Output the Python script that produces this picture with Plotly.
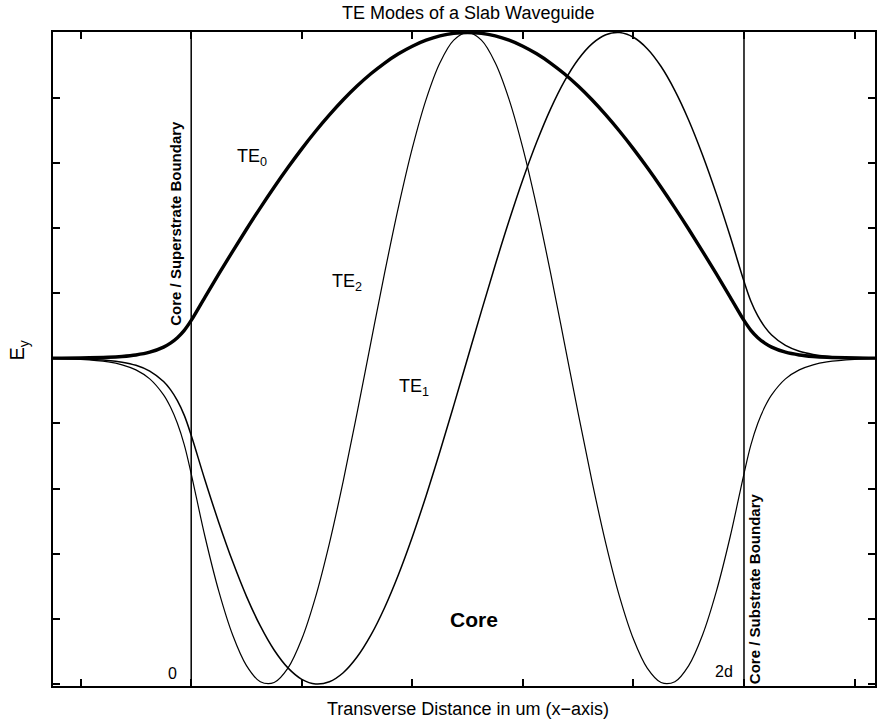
import plotly.graph_objects as go

# ---- data ----
# x in tick units; the core spans 0 .. 2d (= 5 ticks); E_y normalised to peak 1
x_pos = [-1.25, -1.0, -0.75, -0.625, -0.5, -0.375, -0.25, -0.1875, -0.125, -0.0625,
         0.0, 0.125, 0.25, 0.375, 0.5, 0.625, 0.75, 0.875, 1.0, 1.125,
         1.25, 1.375, 1.5, 1.625, 1.75, 1.875, 2.0, 2.125, 2.25, 2.375,
         2.5, 2.625, 2.75, 2.875, 3.0, 3.125, 3.25, 3.375, 3.5, 3.625,
         3.75, 3.875, 4.0, 4.125, 4.25, 4.375, 4.5, 4.625, 4.75, 4.875,
         5.0, 5.0625, 5.125, 5.1875, 5.25, 5.375, 5.5, 5.625, 5.75, 6.0, 6.25]

ey_te0 = [0.0003, 0.0009, 0.0030, 0.0055, 0.0101, 0.0186, 0.0343, 0.0465, 0.0631, 0.0856,
          0.1161, 0.188, 0.2588, 0.3283, 0.3961, 0.4618, 0.525, 0.5854, 0.6428, 0.6968,
          0.747, 0.7934, 0.8355, 0.8732, 0.9063, 0.9346, 0.958, 0.9763, 0.9894, 0.9974,
          1.0, 0.9974, 0.9894, 0.9763, 0.958, 0.9346, 0.9063, 0.8732, 0.8355, 0.7934,
          0.747, 0.6968, 0.6428, 0.5854, 0.525, 0.4618, 0.3961, 0.3283, 0.2588, 0.188,
          0.1161, 0.0856, 0.0631, 0.0465, 0.0343, 0.0186, 0.0101, 0.0055, 0.0030, 0.0009, 0.0003]

ey_te1 = [-0.0006, -0.0020, -0.0065, -0.0119, -0.0216, -0.0393, -0.0715, -0.0964, -0.1300, -0.1753,
          -0.2363, -0.3744, -0.5046, -0.6241, -0.7308, -0.8217, -0.8955, -0.9504, -0.9854, -0.9997,
          -0.9929, -0.9652, -0.9172, -0.85, -0.7649, -0.6637, -0.5486, -0.4218, -0.2863, -0.1446,
          0.0, 0.1446, 0.2863, 0.4218, 0.5486, 0.6637, 0.7649, 0.85, 0.9172, 0.9652,
          0.9929, 0.9997, 0.9854, 0.9504, 0.8955, 0.8217, 0.7308, 0.6241, 0.5046, 0.3744,
          0.2363, 0.1753, 0.1300, 0.0964, 0.0715, 0.0393, 0.0216, 0.0119, 0.0065, 0.0020, 0.0006]

ey_te2 = [-0.0011, -0.0036, -0.0113, -0.0201, -0.0357, -0.0634, -0.1125, -0.1499, -0.1997, -0.2661,
          -0.3545, -0.5479, -0.7156, -0.8494, -0.9433, -0.9927, -0.9953, -0.9511, -0.8619, -0.7323,
          -0.5681, -0.3772, -0.1684, 0.0483, 0.2627, 0.4647, 0.6448, 0.7946, 0.9069, 0.9764,
          1.0, 0.9764, 0.9069, 0.7946, 0.6448, 0.4647, 0.2627, 0.0483, -0.1684, -0.3772,
          -0.5681, -0.7323, -0.8619, -0.9511, -0.9953, -0.9927, -0.9433, -0.8494, -0.7156, -0.5479,
          -0.3545, -0.2661, -0.1997, -0.1499, -0.1125, -0.0634, -0.0357, -0.0201, -0.0113, -0.0036, -0.0011]

boundaries = [0.0, 5.0]
x_ticks = [-1, 0, 1, 2, 3, 4, 5, 6]
y_ticks = [-1.0, -0.8, -0.6, -0.4, -0.2, 0.0, 0.2, 0.4, 0.6, 0.8, 1.0]

FONT = "Liberation Sans, Arial, Helvetica, sans-serif"

fig = go.Figure()
fig.add_trace(go.Scatter(x=x_pos, y=ey_te2, mode="lines", name="TE2",
                         line=dict(color="black", width=1.2, shape="spline")))
fig.add_trace(go.Scatter(x=x_pos, y=ey_te1, mode="lines", name="TE1",
                         line=dict(color="black", width=1.5, shape="spline")))
fig.add_trace(go.Scatter(x=x_pos, y=ey_te0, mode="lines", name="TE0",
                         line=dict(color="black", width=3.4, shape="spline")))

for b in boundaries:
    fig.add_vline(x=b, line=dict(color="black", width=1.5))

ann = []
def add(text, x, y, size, xref="x", yref="y", xanchor="center", yanchor="middle", angle=0, bold=False):
    ann.append(dict(text=("<b>%s</b>" % text) if bold else text, x=x, y=y, xref=xref, yref=yref,
                    xanchor=xanchor, yanchor=yanchor, showarrow=False, textangle=angle,
                    font=dict(family=FONT, size=size, color="black")))

add("TE<sub>0</sub>", 0.392, 0.616, 18, xanchor="left")
add("TE<sub>2</sub>", 1.259, 0.232, 18, xanchor="left")
add("TE<sub>1</sub>", 1.863, -0.091, 18, xanchor="left")
add("Core", 2.558, -0.803, 21, bold=True)
add("0", -0.171, -0.969, 16)
add("2d", 4.818, -0.963, 16)
add("Core / Superstrate Boundary", -0.149, 0.415, 15, angle=-90, bold=True)
add("Core / Substrate Boundary", 5.102, -0.708, 15, angle=-90, bold=True)
add("E<sub>y</sub>", -0.042, 0.025, 20, xref="paper", angle=-90)
add("TE Modes of a Slab Waveguide", 2.5, 1.0298, 18, yref="paper")
add("Transverse Distance in um (x\u2212axis)", 2.5, -0.0359, 18, yref="paper")

fig.update_layout(
    width=877, height=726,
    margin=dict(l=53, r=0, t=32, b=40, pad=0),
    paper_bgcolor="white", plot_bgcolor="white",
    showlegend=False,
    annotations=ann,
    font=dict(family=FONT, color="black"),
)
fig.update_xaxes(range=[-1.25, 6.185], tickvals=x_ticks, showticklabels=False,
                 ticks="inside", ticklen=7, tickwidth=1.5, tickcolor="black",
                 showline=True, linecolor="black", linewidth=1.5, mirror="ticks",
                 showgrid=False, zeroline=False)
fig.update_yaxes(range=[-1.006, 1.0015], tickvals=y_ticks, showticklabels=False,
                 ticks="inside", ticklen=7, tickwidth=1.5, tickcolor="black",
                 showline=True, linecolor="black", linewidth=1.5, mirror="ticks",
                 showgrid=False, zeroline=False)

# remove the default 8 px page margin so the figure fills the window exactly
fig.write_html("out.html",
               config={"displayModeBar": False},
               post_script="document.body.style.margin='0px';document.body.style.overflow='hidden';")
